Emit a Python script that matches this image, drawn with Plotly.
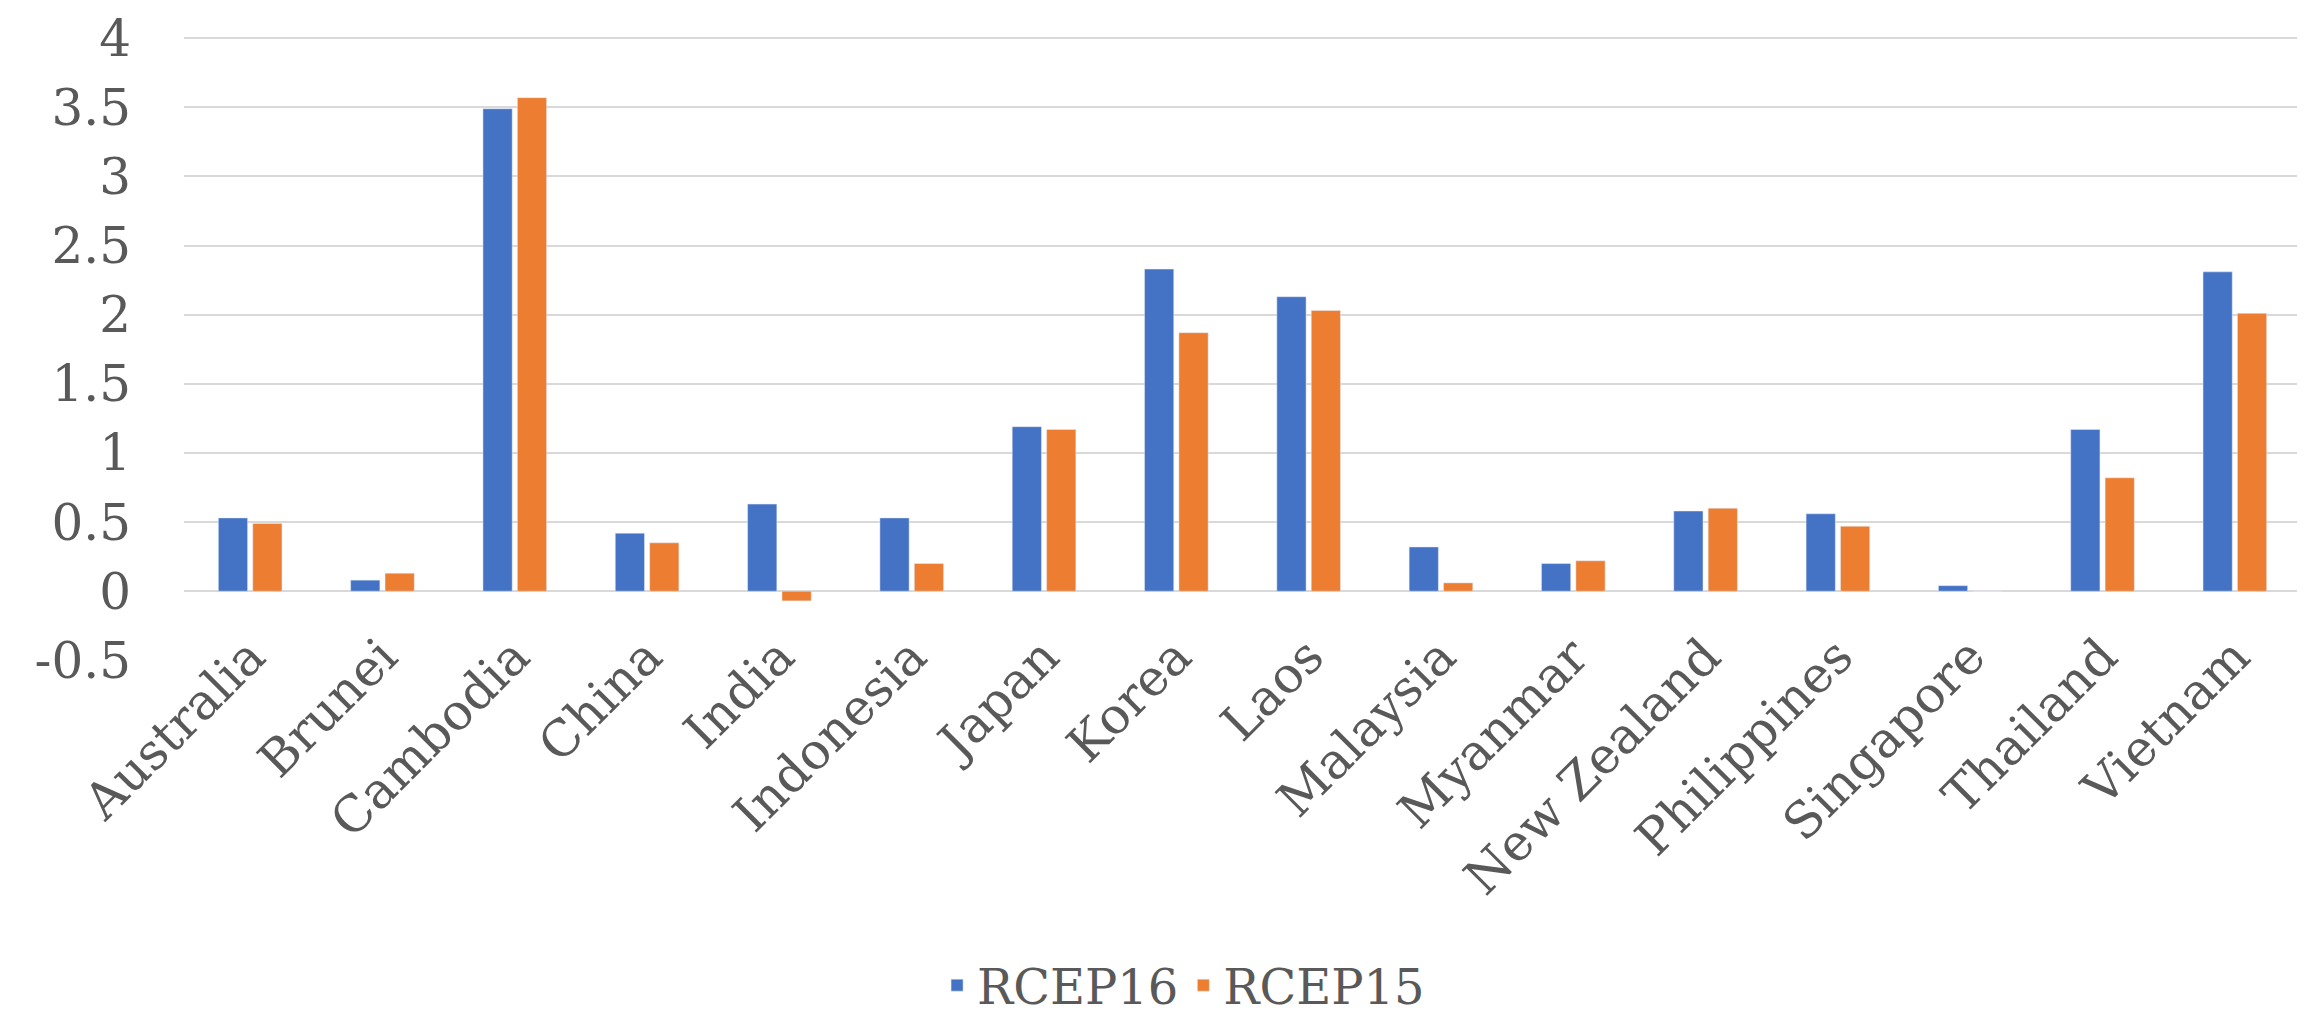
import plotly.graph_objects as go

countries = ["Australia", "Brunei", "Cambodia", "China", "India", "Indonesia", "Japan",
             "Korea", "Laos", "Malaysia", "Myanmar", "New Zealand", "Philippines",
             "Singapore", "Thailand", "Vietnam"]
rcep16 = [0.53, 0.08, 3.49, 0.42, 0.63, 0.53, 1.19, 2.33, 2.13, 0.32, 0.20, 0.58, 0.56, 0.04, 1.17, 2.31]
rcep15 = [0.49, 0.13, 3.57, 0.35, -0.07, 0.20, 1.17, 1.87, 2.03, 0.06, 0.22, 0.60, 0.47, 0.00, 0.82, 2.01]
y_ticks = [-0.5, 0, 0.5, 1, 1.5, 2, 2.5, 3, 3.5, 4]

FONT = "Georgia, 'DejaVu Serif', 'Liberation Serif', serif"
TXT = "#595959"

fig = go.Figure()
fig.add_trace(go.Bar(name="RCEP16", x=countries, y=rcep16, marker_color="#4472C4"))
fig.add_trace(go.Bar(name="RCEP15", x=countries, y=rcep15, marker_color="#ED7D31"))

fig.update_layout(
    width=2305, height=1015,
    margin=dict(l=176, r=12, t=24, b=362, autoexpand=False),
    paper_bgcolor="white", plot_bgcolor="white",
    barmode="group", bargap=0.48, bargroupgap=0.15,
    font=dict(family=FONT, color=TXT, size=44),
    legend=dict(orientation="h", xref="container", yref="container",
                x=0.51, xanchor="center", y=0.037, yanchor="middle",
                font=dict(size=48, family=FONT, color=TXT), itemwidth=30),
    showlegend=True,
)
fig.update_yaxes(range=[-0.505, 4.045], tickvals=y_ticks, ticktext=[str(v) for v in y_ticks],
                 showgrid=True, gridcolor="#D9D9D9", gridwidth=2,
                 zeroline=True, zerolinecolor="#D9D9D9", zerolinewidth=2,
                 showline=False, ticks="", tickfont=dict(size=50), ticklabelstandoff=52,
                 automargin=False)
fig.update_xaxes(tickangle=-45, showgrid=False, showline=False, ticks="",
                 tickfont=dict(size=50), automargin=False, ticklabelstandoff=-45)

fig.write_html("out.html")
